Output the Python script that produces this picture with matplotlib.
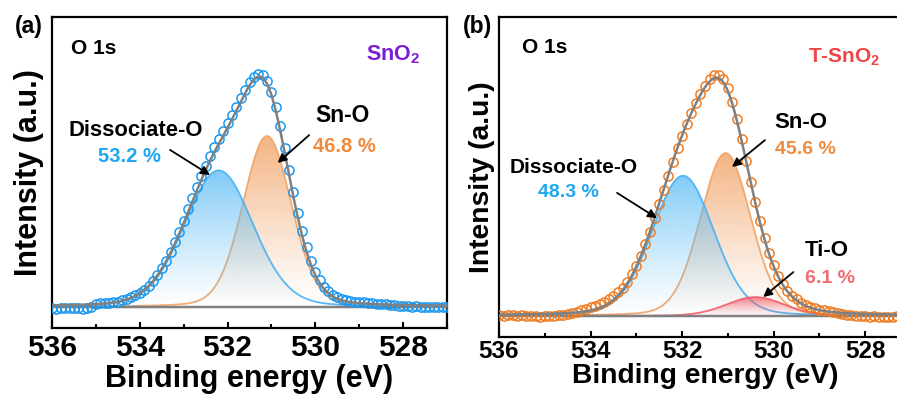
import numpy as np
import matplotlib
matplotlib.use("Agg")
import matplotlib.pyplot as plt
from matplotlib.patches import Polygon
from matplotlib.colors import to_rgb

plt.rcParams["font.family"] = ["Liberation Sans", "DejaVu Sans"]
plt.rcParams["font.weight"] = "bold"
plt.rcParams["axes.labelweight"] = "bold"
plt.rcParams["mathtext.fontset"] = "custom"
plt.rcParams["mathtext.rm"] = "Liberation Sans:bold"
plt.rcParams["mathtext.bf"] = "Liberation Sans:bold"

# ---------------- measured O 1s spectra (binding energy step 0.1 eV) ----------------
energy = np.round(np.arange(536.0, 526.95, -0.1), 1)

intensity_sno2 = [
    -0.005, -0.007, -0.004, -0.006, -0.003, -0.006, -0.004, -0.007, -0.003, 0.002,
    0.013, 0.016, 0.016, 0.019, 0.021, 0.024, 0.029, 0.035, 0.042, 0.051,
    0.062, 0.076, 0.094, 0.115, 0.140, 0.170, 0.204, 0.243, 0.284, 0.330,
    0.378, 0.428, 0.478, 0.527, 0.574, 0.620, 0.662, 0.702, 0.739, 0.774,
    0.808, 0.842, 0.878, 0.915, 0.952, 0.985, 1.010, 1.020, 1.016, 0.990,
    0.944, 0.876, 0.792, 0.698, 0.600, 0.504, 0.413, 0.332, 0.262, 0.203,
    0.155, 0.118, 0.090, 0.069, 0.054, 0.044, 0.037, 0.031, 0.027, 0.024,
    0.022, 0.020, 0.018, 0.016, 0.015, 0.014, 0.012, 0.010, 0.008, 0.006,
    0.004, 0.003, 0.002, 0.003, 0.001, 0.002, 0.000, 0.002, -0.001, 0.001,
    0.000,
]

intensity_tsno2 = [
    0.004, 0.002, 0.006, 0.003, 0.000, 0.004, 0.002, -0.002, 0.001, -0.003,
    0.000, -0.002, 0.002, 0.004, 0.006, 0.009, 0.013, 0.018, 0.024, 0.030,
    0.036, 0.042, 0.050, 0.059, 0.069, 0.082, 0.098, 0.118, 0.143, 0.173,
    0.210, 0.252, 0.300, 0.352, 0.408, 0.466, 0.525, 0.585, 0.643, 0.699,
    0.752, 0.802, 0.847, 0.888, 0.927, 0.960, 0.986, 1.003, 1.004, 0.987,
    0.950, 0.893, 0.820, 0.736, 0.648, 0.560, 0.475, 0.396, 0.325, 0.263,
    0.211, 0.168, 0.133, 0.106, 0.085, 0.069, 0.056, 0.046, 0.038, 0.032,
    0.027, 0.023, 0.019, 0.015, 0.012, 0.009, 0.006, 0.004, 0.002, 0.000,
    -0.002, -0.004, -0.002, -0.005, -0.003, -0.006, -0.004, -0.002, -0.005, -0.003,
    -0.004,
]

# ---------------- fitted components (pseudo-Voigt, 15 % Lorentzian) ----------------
names_sno2 = ["Dissociate-O", "Sn-O"]
centers_sno2 = [532.20, 531.10]
fwhm_sno2 = [1.85, 1.30]
percent_sno2 = [53.2, 46.8]
total_area_sno2 = 2.376

names_tsno2 = ["Dissociate-O", "Sn-O", "Ti-O"]
centers_tsno2 = [531.98, 531.05, 530.40]
fwhm_tsno2 = [1.60, 1.30, 1.50]
percent_tsno2 = [48.3, 45.6, 6.1]
total_area_tsno2 = 2.208

ETA = 0.15
x_ticks = [536, 534, 532, 530, 528]

# colours
C_DATA_A = "#1a98ef"
C_DATA_B = "#f07c22"
C_ENV = "#808080"
COMP_STYLE = {
    "Dissociate-O": dict(line="#45b2f6", fill="#5cbcf5", text="#1fa6f2", ftop=0.80, fz=3),
    "Sn-O": dict(line="#f0a468", fill="#f2a468", text="#f08a3c", ftop=0.85, fz=2),
    "Ti-O": dict(line="#f25d6a", fill="#f4606c", text="#f26a72", ftop=0.80, fz=4),
}


def pseudo_voigt(x, c, w, h):
    u = (x - c) / w
    g = np.exp(-4 * np.log(2) * u ** 2)
    lor = 1.0 / (1.0 + 4 * u ** 2)
    return h * ((1 - ETA) * g + ETA * lor)


AREA_FACTOR = (1 - ETA) * np.sqrt(np.pi / (4 * np.log(2))) + ETA * np.pi / 2


def gradient_fill(ax, x, y, rgb, a_top, zorder):
    top = y.max()
    grad = np.zeros((256, 1, 4))
    grad[..., :3] = to_rgb(rgb)
    grad[..., 3] = np.linspace(0.0, a_top, 256)[:, None] ** 1.15
    im = ax.imshow(grad, aspect="auto", origin="lower",
                   extent=[x.min(), x.max(), 0.0, top], zorder=zorder,
                   interpolation="bilinear")
    verts = np.column_stack([np.r_[x, x[::-1]], np.r_[y, np.zeros_like(y)]])
    clip = Polygon(verts, closed=True, facecolor="none", edgecolor="none",
                   transform=ax.transData)
    ax.add_patch(clip)
    im.set_clip_path(clip)


def draw_panel(ax, intensity, names, centers, fwhm, percent, total_area,
               data_color, ylim, tick_size, tick_pad, label_size, xlabelpad):
    xf = np.linspace(536.0, 527.0, 1201)
    envelope = np.zeros_like(xf)
    for name, c, w, p in zip(names, centers, fwhm, percent):
        h = total_area * p / 100.0 / (w * AREA_FACTOR)
        comp = pseudo_voigt(xf, c, w, h)
        envelope += comp
        st = COMP_STYLE[name]
        gradient_fill(ax, xf, comp, st["fill"], st["ftop"], st["fz"])
        ax.plot(xf, comp, color=st["line"], lw=1.3, alpha=0.9, zorder=st["fz"] + 0.5)
    ax.plot(xf, np.zeros_like(xf), color=C_ENV, lw=1.8, zorder=5)
    ax.plot(energy, intensity, "o", mfc="none", mec=data_color, ms=6.6, mew=1.1,
            zorder=6)
    ax.plot(xf, envelope, color=C_ENV, lw=1.8, zorder=7)

    ax.set_xlim(536, 527)
    ax.set_ylim(*ylim)
    ax.set_xticks(x_ticks)
    ax.set_xticks(np.arange(527, 537, 1), minor=True)
    ax.set_yticks([])
    ax.tick_params(axis="x", which="both", direction="in", top=False, width=1.5,
                   labelsize=tick_size, pad=tick_pad)
    ax.tick_params(axis="x", which="major", length=4.5)
    ax.tick_params(axis="x", which="minor", length=3)
    for sp in ax.spines.values():
        sp.set_linewidth(1.6)
    ax.set_xlabel("Binding energy (eV)", fontsize=label_size, labelpad=xlabelpad)
    ax.set_ylabel("Intensity (a.u.)", fontsize=label_size)


def arrow(ax, tail, tip):
    ax.annotate("", xy=tip, xytext=tail,
                arrowprops=dict(arrowstyle="-|>", color="black", lw=1.3,
                                mutation_scale=13, shrinkA=0, shrinkB=0),
                zorder=9)


fig = plt.figure(figsize=(8.97, 3.99), dpi=100)
W, H = 897.0, 399.0
ax_a = fig.add_axes([52 / W, 1 - 328 / H, (447 - 52) / W, 311 / H])
ax_b = fig.add_axes([499 / W, 1 - 337 / H, (911 - 499) / W, 320 / H])

draw_panel(ax_a, intensity_sno2, names_sno2, centers_sno2, fwhm_sno2,
           percent_sno2, total_area_sno2, C_DATA_A, (-0.092, 1.272),
           21.5, 4, 22, 2.0)
draw_panel(ax_b, intensity_tsno2, names_tsno2, centers_tsno2, fwhm_tsno2,
           percent_tsno2, total_area_tsno2, C_DATA_B, (-0.0875, 1.246),
           17.5, 2.5, 20.3, 0.0)
ax_a.yaxis.labelpad = 6
ax_b.yaxis.labelpad = 3

# panel (a) annotations
ax_a.text(535.57, 1.136, "O 1s", fontsize=15, ha="left", va="center")
ax_a.text(528.85, 1.105, r"SnO$_\mathbf{2}$", fontsize=15.5, ha="left", va="center",
          color="#7b1fd6")
ax_a.text(534.10, 0.776, "Dissociate-O", fontsize=15.8, ha="center", va="center")
ax_a.text(534.24, 0.658, f"{percent_sno2[0]} %", fontsize=14.5, ha="center",
          va="center", color=COMP_STYLE["Dissociate-O"]["text"])
ax_a.text(529.39, 0.838, "Sn-O", fontsize=16.5, ha="center", va="center")
ax_a.text(529.33, 0.706, f"{percent_sno2[1]} %", fontsize=14.5, ha="center",
          va="center", color=COMP_STYLE["Sn-O"]["text"])
arrow(ax_a, (533.31, 0.689), (532.40, 0.579))
arrow(ax_a, (530.14, 0.754), (530.86, 0.632))

# panel (b) annotations
ax_b.text(535.50, 1.117, "O 1s", fontsize=15, ha="left", va="center")
ax_b.text(529.25, 1.079, r"T-SnO$_\mathbf{2}$", fontsize=15, ha="left", va="center",
          color="#f04545")
ax_b.text(534.36, 0.617, "Dissociate-O", fontsize=15, ha="center", va="center")
ax_b.text(534.49, 0.513, f"{percent_tsno2[0]} %", fontsize=14, ha="center",
          va="center", color=COMP_STYLE["Dissociate-O"]["text"])
ax_b.text(529.40, 0.808, "Sn-O", fontsize=16, ha="center", va="center")
ax_b.text(529.31, 0.692, f"{percent_tsno2[1]} %", fontsize=14, ha="center",
          va="center", color=COMP_STYLE["Sn-O"]["text"])
ax_b.text(528.83, 0.275, "Ti-O", fontsize=16, ha="center", va="center")
ax_b.text(528.77, 0.158, f"{percent_tsno2[2]} %", fontsize=14, ha="center",
          va="center", color=COMP_STYLE["Ti-O"]["text"])
arrow(ax_b, (533.42, 0.513), (532.55, 0.408))
arrow(ax_b, (530.19, 0.733), (530.91, 0.621))
arrow(ax_b, (529.57, 0.183), (530.23, 0.079))

fig.text(29 / W, 1 - 27 / H, "(a)", fontsize=16.5, ha="center", va="center")
fig.text(477 / W, 1 - 27 / H, "(b)", fontsize=16.5, ha="center", va="center")

fig.savefig("out.png", dpi=100)
